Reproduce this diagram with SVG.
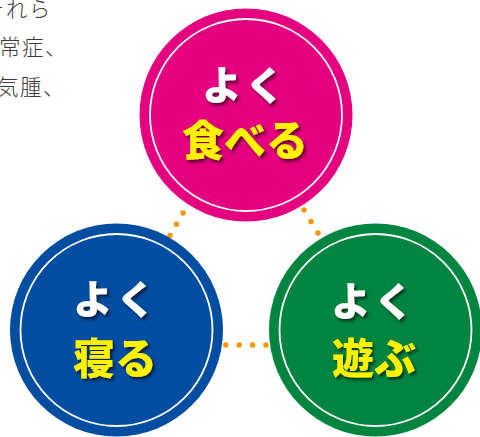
<svg xmlns="http://www.w3.org/2000/svg" width="480" height="437" viewBox="0 0 480 437">
<defs>
<filter id="sh" x="-20%" y="-20%" width="140%" height="140%">
<feDropShadow dx="2" dy="2.5" stdDeviation="1.6" flood-color="#000" flood-opacity="0.6"/>
</filter>
<style>
.para{font-family:"Noto Sans CJK JP","Noto Sans",sans-serif;font-size:21.5px;font-weight:300;fill:#3e3a39;letter-spacing:1.5px}
.ring{fill:none;stroke:#fff;stroke-width:1.8}
.lbl{font-family:"Noto Sans CJK JP",sans-serif;font-weight:900;text-anchor:middle;filter:url(#sh)}
.w{fill:#fff;font-size:40px;letter-spacing:3px}
.y{fill:#fff100;font-size:42px}
.dots{fill:none;stroke:#f39800;stroke-width:5.5;stroke-linecap:round}
</style>
</defs>
<g id="paragraph">
<text class="para" x="-17" y="17">それら</text>
<text class="para" x="-1" y="55">常症、</text>
<text class="para" x="-3" y="95">気腫、</text>
</g>
<g id="connectors">
<path class="dots" d="M196 190.6 L157 257.8" stroke-dasharray="0 12.95"/>
<path class="dots" d="M290 187 L332 256" stroke-dasharray="0 13.46"/>
<path class="dots" d="M199 345 L293 345" stroke-dasharray="0 13.4"/>
</g>
<g id="taberu">
<circle cx="246" cy="115" r="106.5" fill="#e4007f"/>
<circle class="ring" cx="246" cy="115" r="96"/>
<text class="lbl w" x="245" y="100">よく</text>
<text class="lbl y" x="245" y="156">食べる</text>
</g>
<g id="neru">
<circle cx="116.5" cy="330" r="106.5" fill="#014da1"/>
<circle class="ring" cx="116.5" cy="330" r="96"/>
<text class="lbl w" x="116" y="314">よく</text>
<text class="lbl y" x="115" y="374">寝る</text>
</g>
<g id="asobu">
<circle cx="375.5" cy="330" r="106.5" fill="#008540"/>
<circle class="ring" cx="375.5" cy="330" r="96"/>
<text class="lbl w" x="374" y="316">よく</text>
<text class="lbl y" x="374" y="374">遊ぶ</text>
</g>
</svg>
